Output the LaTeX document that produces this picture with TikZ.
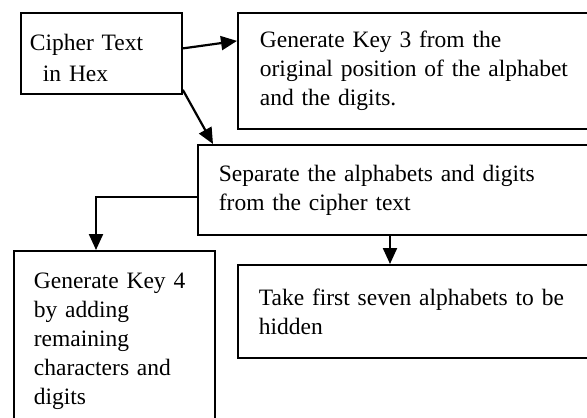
\documentclass[tikz,border=0pt]{standalone}
\usepackage{fontspec}
\setmainfont{Liberation Serif}
\usetikzlibrary{arrows.meta}
\begin{document}
\begin{tikzpicture}[x=1pt,y=1pt,
  box/.style={draw, line width=1.8pt, anchor=north west, align=left,
    font=\fontsize{23.5}{29}\selectfont, inner ysep=0pt},
  conn/.style={line width=2.2pt, -{Triangle[length=16pt,width=14pt]}}]
\useasboundingbox (0,0) rectangle (587,-418);
\clip (0,0) rectangle (587,-418);
\node[box, inner xsep=9pt, text width=143pt, minimum width=161pt, minimum height=81pt] (A) at (20,-12)
  {\rule{0pt}{26pt}Cipher Text\\[2pt]\hspace*{13pt}in Hex};
\node[box, inner xsep=22pt, text width=319pt, minimum width=363pt, minimum height=116pt] (B) at (237,-12)
  {Generate Key 3 from the\\original position of the alphabet\\and the digits.};
\node[box, inner xsep=21pt, text width=361pt, minimum width=403pt, minimum height=90pt] (C) at (197,-144)
  {Separate the alphabets and digits\\from the cipher text};
\node[box, inner xsep=20pt, text width=161pt, minimum width=201pt, minimum height=180pt] (D) at (13,-250)
  {Generate Key 4\\by adding\\remaining\\characters and\\digits};
\node[box, inner xsep=21pt, text width=321pt, minimum width=363pt, minimum height=93pt] (E) at (237,-264)
  {Take first seven alphabets to be\\hidden};
\coordinate (ce) at ([xshift=153pt]E.north west);
\draw[conn] ([yshift=5pt]A.east) -- ([yshift=30pt]B.west);
\draw[conn] ([yshift=5pt]A.south east) -- ([xshift=16pt]C.north west);
\draw[conn] ([yshift=-7pt]C.west) -| ([xshift=83pt]D.north west);
\draw[conn] (C.south -| ce) -- (ce);
\end{tikzpicture}
\end{document}
